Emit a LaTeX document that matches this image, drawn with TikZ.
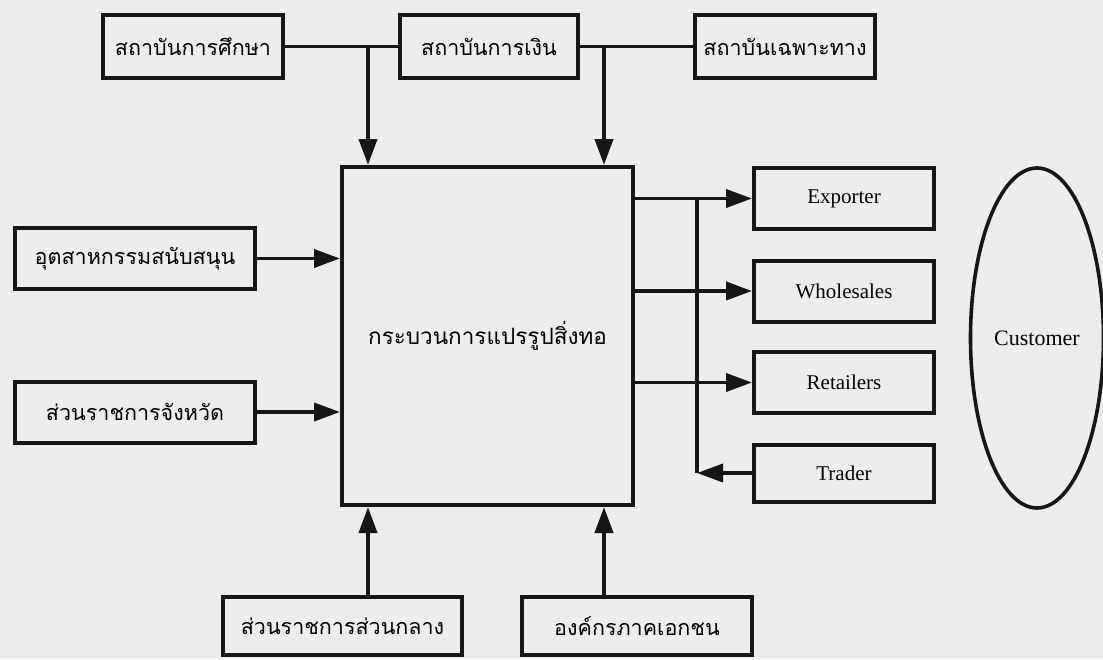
\documentclass[tikz,border=0pt]{standalone}
\usepackage{fontspec}
\setmainfont{Liberation Serif}
\newfontfamily\thaifont[Script=Thai]{Loma}
\usetikzlibrary{arrows.meta,shapes.geometric}
\definecolor{bgc}{HTML}{EDEDED}
\definecolor{ink}{HTML}{161616}
\begin{document}
\begin{tikzpicture}[x=1pt,y=-1pt,
  box/.style={draw=ink,line width=4pt,fill=none,minimum height=61pt,inner sep=0pt},
  thai/.style={font=\thaifont\fontsize{21.5}{24}\selectfont},
  eng/.style={font=\fontsize{21}{24}\selectfont},
  conn/.style={draw=ink,line width=3.8pt},
  arr/.style={conn,-{Triangle[length=26pt,width=18pt]}}]
\fill[bgc] (0,0) rectangle (1103,659);
\useasboundingbox (0,0) rectangle (1103,659);
% top row
\node[box,thai,minimum width=180pt,minimum height=63pt] (b1) at (193,46.5) {สถาบันการศึกษา};
\node[box,thai,minimum width=178pt,minimum height=63pt] (b2) at (489,46.5) {สถาบันการเงิน};
\node[box,thai,minimum width=180pt,minimum height=63pt] (b3) at (785,46.5) {สถาบันเฉพาะทาง};
% main
\node[box,thai,font=\thaifont\fontsize{22.5}{26}\selectfont,minimum width=291pt,minimum height=338pt] (main) at (487.5,336) {กระบวนการแปรรูปสิ่งทอ};
% left
\node[box,thai,minimum width=240pt] (l1) at (135,258.5) {อุตสาหกรรมสนับสนุน};
\node[box,thai,minimum width=240pt] (l2) at (135,412) {ส่วนราชการจังหวัด};
% right
\node[box,eng,minimum width=180pt] (r1) at (844,198.5) {Exporter};
\node[box,eng,minimum width=180pt] (r2) at (844,291) {Wholesales};
\node[box,eng,minimum width=180pt] (r3) at (844,382.5) {Retailers};
\node[box,eng,minimum width=180pt,minimum height=57pt] (r4) at (844,473) {Trader};
% bottom
\node[box,thai,minimum width=239pt,minimum height=58pt] (bt1) at (342.5,626) {ส่วนราชการส่วนกลาง};
\node[box,thai,minimum width=230pt,minimum height=58pt] (bt2) at (637,626) {องค์กรภาคเอกชน};
% customer
\node[ellipse,draw=ink,line width=3.6pt,minimum width=133pt,minimum height=340pt,inner sep=0pt,eng,font=\fontsize{22}{24}\selectfont] (cust) at (1037,338) {Customer};
% coordinates
\coordinate (j1) at (368,45);
\coordinate (j2) at (604,45);
\coordinate (v1) at (697,198.5);
% top connectors
\draw[conn] (b1.east) -- (b2.west);
\draw[conn] (b2.east) -- (b3.west);
\draw[arr] (j1) -- (j1 |- main.north);
\draw[arr] (j2) -- (j2 |- main.north);
% left
\draw[arr] (l1.east) -- (l1.east -| main.west);
\draw[arr] (l2.east) -- (l2.east -| main.west);
% bottom
\draw[arr] (j1 |- bt1.north) -- (j1 |- main.south);
\draw[arr] (j2 |- bt2.north) -- (j2 |- main.south);
% right
\draw[arr] (main.east |- r1.west) -- (r1.west);
\draw[arr] (main.east |- r2.west) -- (r2.west);
\draw[arr] (main.east |- r3.west) -- (r3.west);
\draw[conn] (v1) -- (v1 |- r4.west);
\draw[arr] (r4.west) -- (v1 |- r4.west);
\end{tikzpicture}
\end{document}
